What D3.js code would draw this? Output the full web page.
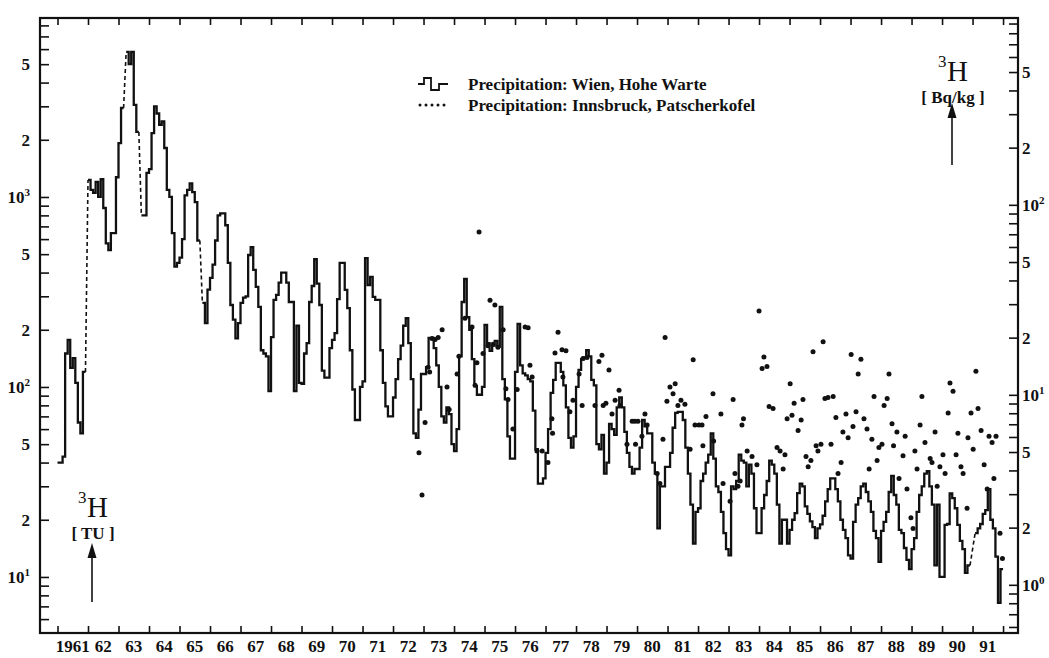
<!DOCTYPE html>
<html>
<head>
<meta charset="utf-8">
<script src="https://cdn.jsdelivr.net/npm/d3@7"></script>
<style>
  html, body { margin: 0; padding: 0; background: #fff; }
  svg { display: block; }
  text { font-family: "Liberation Serif", "DejaVu Serif", serif; fill: #111; }
  .lbl { font-weight: bold; font-size: 17px; }
</style>
</head>
<body>
<svg id="chart" width="1049" height="658"></svg>
<script>
// ── data ──
const firstYear = 1961;
const tuToBq = 0.11;

// Wien, Hohe Warte: monthly 3H in TU, Jan..Dec per row, null = no sample
const wien = [
  40, 40, 43, 150, 177, 126, 142, 105, 65, 57, 120, null,            // 1961
  1230, 1090, 1050, 1200, 1000, 1240, 875, 570, 525, 645, 645, 1270,  // 1962
  1920, 2940, null, 5800, 5000, 5800, 3050, 2200, null, 800, 800, 1340, // 1963
  1400, 2170, 3000, 2750, 2400, 2500, 1810, 1090, 1000, 645, 430, 450, // 1964
  480, 600, 1020, 1090, 1180, 1060, 940, 590, null, 277, 217, 325,    // 1965
  375, 440, 590, 800, 820, 820, 710, 450, 270, 226, 180, 217,         // 1966
  277, 295, 300, 495, 545, 413, 336, 264, 156, 150, 145, 95,          // 1967
  183, 287, 305, 354, 400, 400, 354, 280, 280, 95, 210, 105,          // 1968
  104, 150, 170, 280, 340, 470, 350, 270, 122, 112, 112, 160,         // 1969
  177, 192, 290, 450, 450, 324, 260, 156, 97, 67, 67, 100,            // 1970
  107, 477, 344, 380, 298, 287, 287, 156, 105, 79, 70, 70,            // 1971
  88, 110, 140, 165, 210, 230, 170, 110, 57, 54, 76, 117,             // 1972
  117, 127, 181, 181, 160, 130, 100, 70, 65, 78, 72, 50,              // 1973
  46, 60, 145, 280, 370, 233, 200, 140, 101, 91, 91, 100,             // 1974
  212, 170, 155, 165, 175, 163, 264, 110, 86, 55, 42, 42,             // 1975
  120, 215, 130, 118, 115, 110, 107, 75, 47, 31, 31, 33,              // 1976
  45, 60, 93, 109, 134, 134, 120, 102, 78, 54, 48, 55,                // 1977
  100, 123, 140, 143, 156, 145, 109, 102, 50, 47, 56, 35,             // 1978
  40, 64, 60, 56, 78, 88, 78, 58, 45, 38, 35, 37,                     // 1979
  37, 48, 67, 62, 57, 57, 40, 35, 18, 30, 30, 38,                     // 1980
  38, 45, 61, 73, 74, 74, 67, 48, 35, 24, 15, 22,                     // 1981
  23, 32, 35, 40, 44, 57, 42, 30, 28, 22, 17, 14,                     // 1982
  13, 30, 29, 32, 44, 41, 40, 30, 39, 35, 23, 17,                     // 1983
  17, 23, 27, 32, 41, 39, 35, 24, 15, 20, 20, 15,                     // 1984
  17.7, 20, 21.7, 27.6, 31, 30, 23.5, 21.5, 19.6, 18.3, 16, 18,       // 1985
  18.9, 21, 25, 29, 33, 33, 29, 25, 20, 17.7, 16, 13,                 // 1986
  12.5, 19.5, 24, 26, 30, 31, 28, 25, 22, 17.5, 16, 12,               // 1987
  17.5, 19.5, 22, 28, 34, 27, 24, 17.7, 17, 14.2, 12.3, 11,           // 1988
  14, 16, 22, 27, 30, 35, 36, 30, 24, 11.5, 24, 10,                   // 1989
  10, 18.8, 19, 27.5, 26, 23, 18.8, 15.5, 14, 10.5, 11.5, null,       // 1990
  null, 17, 18, 19, 21.5, 22.5, 29, 20, 18, 12.8, 7.3, 11             // 1991
];

// Innsbruck, Patscherkofel: sample dates (decimal year) and 3H in TU
const innsbruckT = [
  1972.85, 1972.95, 1973.05, 1973.15, 1973.20, 1973.28, 1973.38, 1973.48, 1973.61, 1973.77, 1973.84,
  1974.10, 1974.16, 1974.36, 1974.59, 1974.69, 1974.75, 1974.82, 1974.95,
  1975.11, 1975.18, 1975.28, 1975.34, 1975.44, 1975.61, 1975.70, 1975.77, 1975.93,
  1976.07, 1976.33, 1976.43, 1976.49, 1976.56, 1976.72, 1976.89,
  1977.08, 1977.21, 1977.23, 1977.31, 1977.41, 1977.54, 1977.57, 1977.67, 1977.80, 1977.90,
  1978.10, 1978.20, 1978.23, 1978.36, 1978.62, 1978.75, 1978.85, 1978.89, 1978.98,
  1979.08, 1979.18, 1979.28, 1979.41, 1979.44, 1979.67, 1979.84, 1979.93, 1979.95,
  1980.03, 1980.16, 1980.26, 1980.33, 1980.66, 1980.75, 1980.85, 1980.92, 1980.98,
  1981.08, 1981.18, 1981.25, 1981.34, 1981.44, 1981.57, 1981.74, 1981.84, 1981.90,
  1982.03, 1982.13, 1982.16, 1982.26, 1982.49, 1982.51, 1982.75, 1982.82,
  1983.05, 1983.15, 1983.21, 1983.31, 1983.38, 1983.44, 1983.49, 1983.61, 1983.77, 1983.93,
  1984.00, 1984.10, 1984.16, 1984.26, 1984.33, 1984.46, 1984.59, 1984.69, 1984.79, 1984.85, 1984.92,
  1985.02, 1985.08, 1985.15, 1985.28, 1985.38, 1985.44, 1985.54, 1985.61, 1985.70, 1985.77, 1985.87, 1985.93,
  1986.03, 1986.10, 1986.16, 1986.26, 1986.36, 1986.43, 1986.52, 1986.59, 1986.69, 1986.75, 1986.85, 1986.92,
  1987.02, 1987.08, 1987.18, 1987.25, 1987.34, 1987.44, 1987.54, 1987.61, 1987.70, 1987.77, 1987.87, 1987.93,
  1988.03, 1988.10, 1988.20, 1988.26, 1988.36, 1988.41, 1988.52, 1988.59, 1988.72, 1988.79, 1988.85, 1988.98,
  1989.05, 1989.11, 1989.18, 1989.28, 1989.34, 1989.44, 1989.61, 1989.67, 1989.77, 1989.84, 1989.93,
  1990.03, 1990.10, 1990.20, 1990.26, 1990.36, 1990.46, 1990.52, 1990.62, 1990.69, 1990.82, 1990.85, 1990.95,
  1991.02, 1991.11, 1991.18, 1991.28, 1991.38, 1991.48, 1991.54, 1991.64, 1991.70, 1991.77, 1991.90, 1991.98
];
const innsbruckTU = [
  45, 27, 65, 127, 120, 180, 178, 182, 200, 100, 76,
  117, 145, 230, 207, 102, 134, 655, 150,
  165, 286, 168, 270, 162, 200, 98, 86, 60,
  97, 207, 205, 130, 113, 46, 46,
  40, 68, 57, 151, 194, 157, 113, 155, 74, 85,
  117, 80, 141, 143, 80, 136, 147, 80, 82,
  123, 72, 85, 96, 80, 50, 66, 66, 50,
  66, 55, 72, 63, 35, 31, 53, 182, 84,
  100, 92, 104, 80, 85, 81, 47, 139, 63,
  63, 63, 49, 70, 92, 52, 72, 31,
  25, 86, 35, 30, 32, 63, 68, 46, 43, 39,
  251, 125, 144, 128, 79, 77, 48, 46, 37, 44, 68,
  104, 71, 82, 59, 67, 86, 43, 38, 41, 153, 49, 46,
  50, 173, 87, 88, 50, 89, 69, 35, 40, 58, 72, 54,
  148, 62, 74, 117, 140, 68, 60, 37, 53, 89, 41, 48,
  50, 80, 87, 117, 64, 49, 58, 33, 43.5, 55, 29, 20.5,
  18, 46, 37, 63, 89, 51, 42, 40, 58, 30, 38,
  44, 35, 73, 105, 95, 44, 57, 38, 35, 23, 54, 73,
  47, 121, 77, 59, 39, 29, 55, 51, 33, 55, 17, 12.5
];

const yearTicks = d3.range(1961, 1993);
const yearLabels = ["1961", "62", "63", "64", "65", "66", "67", "68", "69", "70",
  "71", "72", "73", "74", "75", "76", "77", "78", "79", "80",
  "81", "82", "83", "84", "85", "86", "87", "88", "89", "90", "91"];
const legendLabels = ["Precipitation: Wien, Hohe Warte", "Precipitation: Innsbruck, Patscherkofel"];

// ── layout ──
const plot = { left: 40, right: 1018, top: 18, bottom: 633 };
const svg = d3.select("#chart");

const x = d3.scaleLinear().domain([1960.426, 1992.49]).range([plot.left, plot.right]);
const y = d3.scaleLog().domain([5.07, 8750]).range([plot.bottom, plot.top]);
const yR = d3.scaleLog().domain([5.07 * tuToBq, 8750 * tuToBq]).range([plot.bottom, plot.top]);

// label text for log ticks: 10^n, 2, 5 or nothing
function logLabel(sel) {
  sel.each(function (d) {
    const e = Math.floor(Math.log10(d) + 1e-9);
    const k = Math.round(d / Math.pow(10, e));
    const t = d3.select(this).text(null);
    if (k === 1) {
      t.append("tspan").text("10");
      t.append("tspan").attr("dy", -7).attr("font-size", 11).text(e);
    } else if (k === 2 || k === 5) {
      t.text(k);
    }
  });
}

// ── axes ──
const gl = svg.append("g").attr("transform", `translate(${plot.left},0)`)
  .call(d3.axisLeft(y).tickValues(y.ticks()).tickSizeInner(-9).tickSizeOuter(0)
    .tickPadding(10).tickFormat(() => ""));
gl.selectAll(".tick text").attr("class", "lbl").attr("font-size", 17).call(logLabel);

const gr = svg.append("g").attr("transform", `translate(${plot.right},0)`)
  .call(d3.axisRight(yR).tickValues(yR.ticks()).tickSizeInner(-9).tickSizeOuter(0)
    .tickPadding(4).tickFormat(() => ""));
gr.selectAll(".tick text").attr("class", "lbl").attr("font-size", 17).call(logLabel);

svg.append("g").attr("transform", `translate(0,${plot.bottom})`)
  .call(d3.axisBottom(x).tickValues(yearTicks).tickSizeInner(-7).tickSizeOuter(0).tickFormat(""));
svg.append("g").attr("transform", `translate(0,${plot.top})`)
  .call(d3.axisTop(x).tickValues(yearTicks).tickSizeInner(-7).tickSizeOuter(0).tickFormat(""));

svg.selectAll(".domain").remove();
svg.selectAll(".tick line").attr("stroke", "#111").attr("stroke-width", 1.6);
svg.selectAll(".tick text").attr("font-family", "Liberation Serif, serif").attr("fill", "#111");

svg.append("g").selectAll("text")
  .data(yearLabels)
  .join("text")
  .attr("class", "lbl")
  .attr("x", (_, i) => x(firstYear + i + 0.5))
  .attr("y", 652)
  .attr("text-anchor", "middle")
  .attr("font-size", 16)
  .text(d => d);

svg.append("rect")
  .attr("x", plot.left).attr("y", plot.top)
  .attr("width", plot.right - plot.left).attr("height", plot.bottom - plot.top)
  .attr("fill", "none").attr("stroke", "#111").attr("stroke-width", 2.2);

// ── Wien step line, dashed across missing months ──
const runs = [];
let cur = null;
wien.forEach((v, i) => {
  if (v == null) { cur = null; return; }
  if (!cur) { cur = []; runs.push(cur); }
  cur.push([firstYear + i / 12, v]);
});
runs.forEach(r => {
  const last = r[r.length - 1];
  r.push([last[0] + 1 / 12, last[1]]);
});
const gaps = [];
for (let k = 1; k < runs.length; k++) {
  gaps.push([runs[k - 1][runs[k - 1].length - 1], runs[k][0]]);
}

const step = d3.line().x(d => x(d[0])).y(d => y(d[1])).curve(d3.curveStepAfter);
const straight = d3.line().x(d => x(d[0])).y(d => y(d[1]));

svg.append("g").selectAll("path")
  .data(runs)
  .join("path")
  .attr("d", step)
  .attr("fill", "none")
  .attr("stroke", "#111")
  .attr("stroke-width", 2.3)
  .attr("stroke-linejoin", "miter");

svg.append("g").selectAll("path")
  .data(gaps)
  .join("path")
  .attr("d", straight)
  .attr("fill", "none")
  .attr("stroke", "#111")
  .attr("stroke-width", 1.6)
  .attr("stroke-dasharray", "4,3");

// ── Innsbruck dots ──
svg.append("g").selectAll("circle")
  .data(innsbruckT.map((t, i) => [t, innsbruckTU[i]]))
  .join("circle")
  .attr("cx", d => x(d[0]))
  .attr("cy", d => y(d[1]))
  .attr("r", 2.5)
  .attr("fill", "#111");

// ── legend ──
const lg = svg.append("g");
lg.append("path")
  .attr("d", "M418,84H424V78H431V90H439V84H448")
  .attr("fill", "none").attr("stroke", "#111").attr("stroke-width", 1.8);
lg.selectAll("circle")
  .data(d3.range(5))
  .join("circle")
  .attr("cx", d => 420 + d * 6)
  .attr("cy", 105)
  .attr("r", 1.5)
  .attr("fill", "#111");
lg.selectAll("text")
  .data(legendLabels)
  .join("text")
  .attr("class", "lbl")
  .attr("x", 468)
  .attr("y", (_, i) => 90 + i * 21)
  .attr("font-size", 17.5)
  .text(d => d);

// ── unit annotations with arrows ──
function unitNote(cx, top, unit, arrowTop, arrowBottom) {
  const g = svg.append("g");
  g.append("text").attr("x", cx - 14).attr("y", top + 13).attr("font-size", 17).text("3");
  g.append("text").attr("x", cx - 5).attr("y", top + 27).attr("font-size", 29).text("H");
  g.append("text").attr("class", "lbl").attr("x", cx + 1).attr("y", top + 49)
    .attr("text-anchor", "middle").attr("font-size", 16).text(unit);
  g.append("line")
    .attr("x1", cx).attr("x2", cx).attr("y1", arrowBottom).attr("y2", arrowTop + 12)
    .attr("stroke", "#111").attr("stroke-width", 1.6);
  g.append("path")
    .attr("d", `M${cx},${arrowTop}L${cx - 4.5},${arrowTop + 15}L${cx + 4.5},${arrowTop + 15}Z`)
    .attr("fill", "#111");
}
unitNote(92, 490, "[ TU ]", 543, 602);
unitNote(952, 54, "[ Bq/kg ]", 103, 165);
</script>
</body>
</html>
